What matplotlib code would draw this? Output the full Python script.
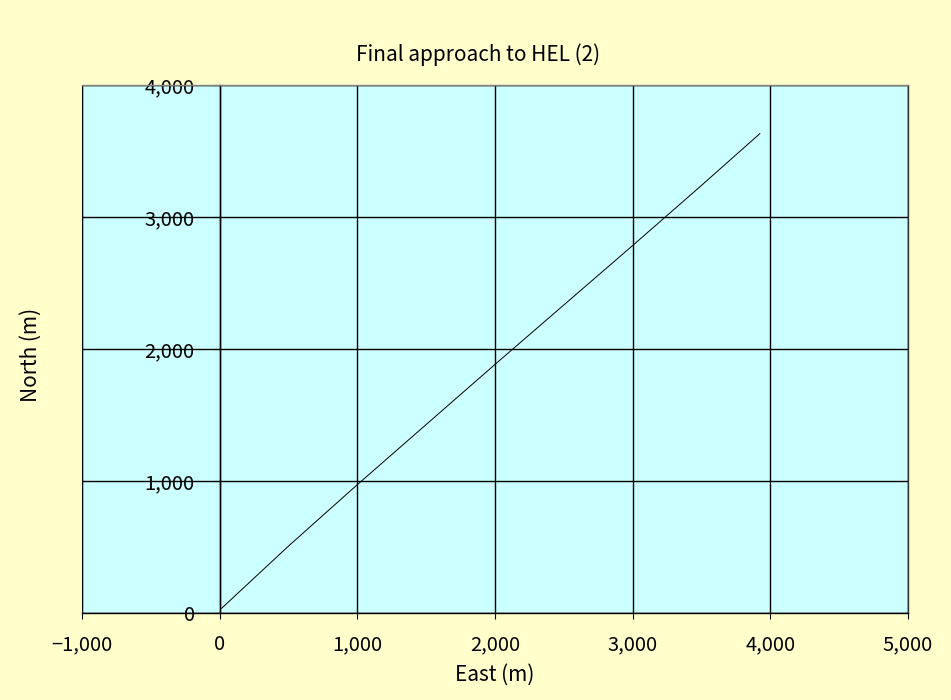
import matplotlib.pyplot as plt
from matplotlib.patches import Rectangle
from matplotlib.ticker import FuncFormatter

# Track (metres)
east = [15, 500, 1000, 1500, 2000, 2500, 3000, 3500, 3924]
north = [40, 510, 975, 1430, 1885, 2335, 2785, 3240, 3632]

x_ticks = [-1000, 0, 1000, 2000, 3000, 4000, 5000]
y_ticks = [0, 1000, 2000, 3000, 4000]

plt.rcParams["font.family"] = ["Noto Sans CJK JP", "DejaVu Sans"]

fig = plt.figure(figsize=(9.51, 7.0), dpi=100, facecolor="#FFFFCC")
ax = fig.add_axes([0.0862, 0.1236, 0.8686, 0.755])
ax.set_facecolor("#CCFFFF")

ax.plot(east, north, color="black", linewidth=0.7, zorder=3)

ax.set_xlim(-1000, 5000)
ax.set_ylim(0, 4000)
ax.set_xticks(x_ticks)
ax.set_yticks(y_ticks)
fmt = FuncFormatter(lambda v, p: f"{int(v):,}".replace("-", "\u2212"))
ax.xaxis.set_major_formatter(fmt)
ax.yaxis.set_major_formatter(fmt)

ax.grid(True, color="black", linewidth=1.0, zorder=1)
ax.set_axisbelow(True)

# y axis sits at x = 0, like the original
ax.spines["left"].set_position(("data", 0))
ax.spines["left"].set_color("black")
ax.spines["bottom"].set_color("black")
ax.spines["right"].set_color("#333333")
ax.spines["top"].set_color("#808080")
for s in ax.spines.values():
    s.set_linewidth(1.0)
ax.add_patch(Rectangle((0, 0), 1, 1, transform=ax.transAxes, fill=False,
                       edgecolor="#808080", linewidth=1.0, zorder=0.5))

ax.tick_params(axis="both", labelsize=14.5, colors="black", length=4)
ax.tick_params(axis="y", pad=14)
ax.tick_params(axis="x", pad=11)
for lbl in ax.get_yticklabels():
    lbl.set_zorder(4)

ax.set_title("Final approach to HEL (2)", fontsize=15, pad=17, x=0.48)
ax.set_xlabel("East (m)", fontsize=15, labelpad=6)
ax.text(-0.062, 0.49, "North (m)", rotation=90, transform=ax.transAxes,
        ha="center", va="center", fontsize=15)

fig.savefig("out.png", dpi=100, facecolor=fig.get_facecolor())
